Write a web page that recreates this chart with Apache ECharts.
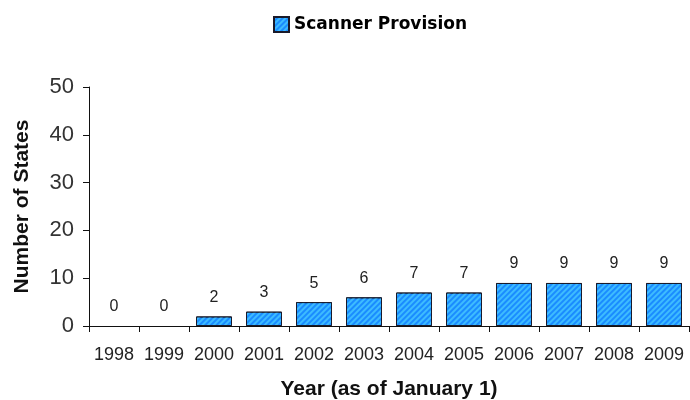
<!DOCTYPE html>
<html><head><meta charset="utf-8">
<script src="https://cdn.jsdelivr.net/npm/echarts@6/dist/echarts.min.js"></script>
<style>html,body{margin:0;padding:0;background:#fff}#c{width:690px;height:400px}</style>
</head><body><div id="c"></div>
<script>
const categories = ['1998','1999','2000','2001','2002','2003','2004','2005','2006','2007','2008','2009'];
const scannerProvision = [0,0,2,3,5,6,7,7,9,9,9,9];
const yTicks = [0,10,20,30,40,50];

const chart = echarts.init(document.getElementById('c'), null, {renderer:'canvas'});
const font = 'Liberation Sans, Arial, sans-serif';
const barData = scannerProvision.map(v => v === 0 ? {value:v, itemStyle:{borderWidth:0, opacity:0}} : v);
chart.setOption({
  animation:false,
  backgroundColor:'#fff',
  legend:{
    data:[{name:'Scanner Provision', icon:'rect'}], left:268, top:11, itemWidth:15, itemHeight:15, itemGap:9,
    textStyle:{fontFamily:'DejaVu Sans, Verdana, sans-serif', fontWeight:'bold', fontSize:17, color:'#000'}
  },
  grid:{left:89, right:1, top:87, bottom:74, outerBoundsMode:'none', containLabel:false},
  xAxis:{
    type:'category', data:categories,
    name:'Year (as of January 1)', nameLocation:'middle', nameGap:53,
    nameTextStyle:{fontFamily:font, fontWeight:'bold', fontSize:21, color:'#111'},
    axisLine:{lineStyle:{color:'#111', width:1}},
    axisTick:{show:true, length:6, lineStyle:{color:'#111'}},
    axisLabel:{fontFamily:font, fontSize:18, color:'#222', margin:20, interval:0}
  },
  yAxis:{
    type:'value', min:yTicks[0], max:yTicks[yTicks.length-1], interval:10,
    name:'Number of States', nameLocation:'middle', nameGap:56, nameRotate:90,
    nameTextStyle:{fontFamily:font, fontWeight:'bold', fontSize:21, color:'#111'},
    axisLine:{show:true, lineStyle:{color:'#111', width:1}},
    axisTick:{show:true, length:6, lineStyle:{color:'#111'}},
    axisLabel:{fontFamily:font, fontSize:22, color:'#333', margin:15},
    splitLine:{show:false}
  },
  series:[{
    name:'Scanner Provision', type:'bar', data:barData,
    barCategoryGap:'28%',
    itemStyle:{
      color:'#1a8cff', borderColor:'#1a1a2a', borderWidth:1,
      decal:{symbol:'rect', symbolSize:1, dashArrayX:[[1,0]], dashArrayY:[2,2], rotation:-Math.PI/4, color:'rgba(70,200,255,0.8)'}
    },
    label:{show:true, position:'top', distance:11, fontFamily:font, fontSize:16, color:'#222', opacity:1}
  }]
});
</script></body></html>
